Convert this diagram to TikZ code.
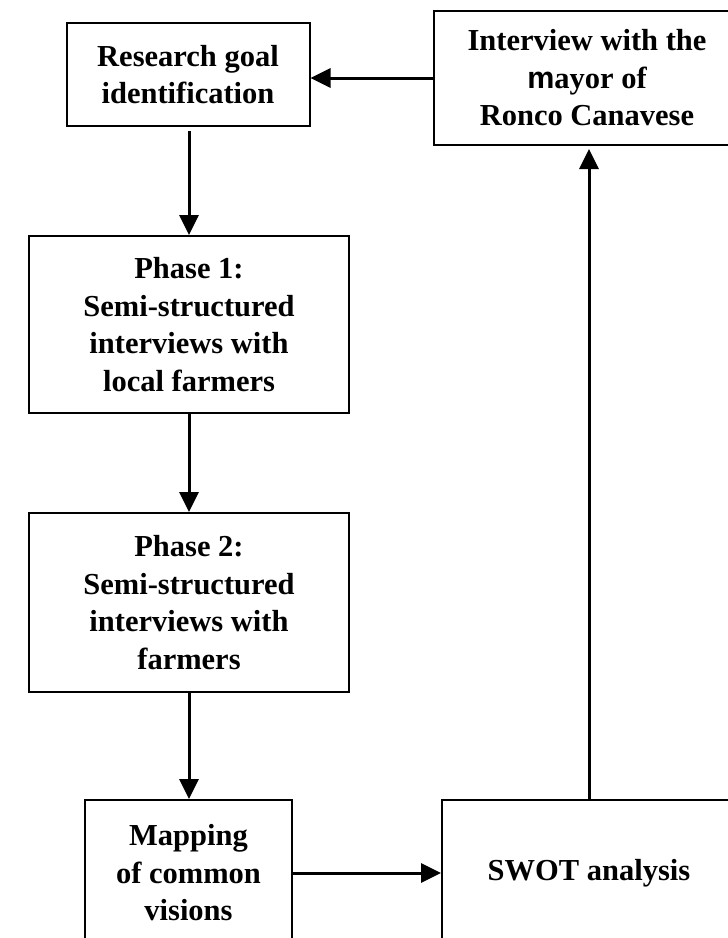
\documentclass[tikz,border=0pt]{standalone}
\usepackage{fontspec}
\setmainfont{Liberation Serif}
\newfontfamily\msans{Liberation Sans}
\usetikzlibrary{arrows.meta}
\begin{document}
\begin{tikzpicture}[x=1pt,y=-1pt,
  box/.style={draw=black, line width=2pt, align=center, inner sep=0pt,
    font=\fontsize{30.5}{37.5}\selectfont\bfseries},
  arr/.style={line width=3pt, -{Triangle[length=20pt,width=19pt]}}]
\useasboundingbox (0,0) rectangle (728,938);
\node[box, minimum width=243pt, minimum height=103pt] (research) at (188,74.5) {Research goal\\identification};
\node[box, minimum width=306pt, minimum height=134pt] (interview) at (587,78) {Interview with the\\{\msans m}ayor of\\Ronco Canavese};
\node[box, minimum width=320pt, minimum height=177pt] (phase1) at (189,324.5) {Phase 1:\\Semi-structured\\interviews with\\local farmers};
\node[box, minimum width=320pt, minimum height=179pt] (phase2) at (189,602.5) {Phase 2:\\Semi-structured\\interviews with\\farmers};
\node[box, minimum width=207pt, minimum height=146pt] (mapping) at (188.5,873) {Mapping\\of common\\visions};
\node[box, minimum width=294pt, minimum height=146pt] (swot) at (589,873) {SWOT analysis};
\draw[arr] (interview.west) -- (interview.west -| research.east);
\draw[arr] ([yshift=-4pt]research.south -| phase1.north) -- (phase1.north);
\draw[arr] (phase1.south) -- (phase2.north);
\draw[arr] (phase2.south) -- (mapping.north -| phase2.south);
\draw[arr] (mapping.east) -- (swot.west);
\draw[arr, shorten >=3pt] (swot.north) -- (swot.north |- interview.south);
\end{tikzpicture}
\end{document}
